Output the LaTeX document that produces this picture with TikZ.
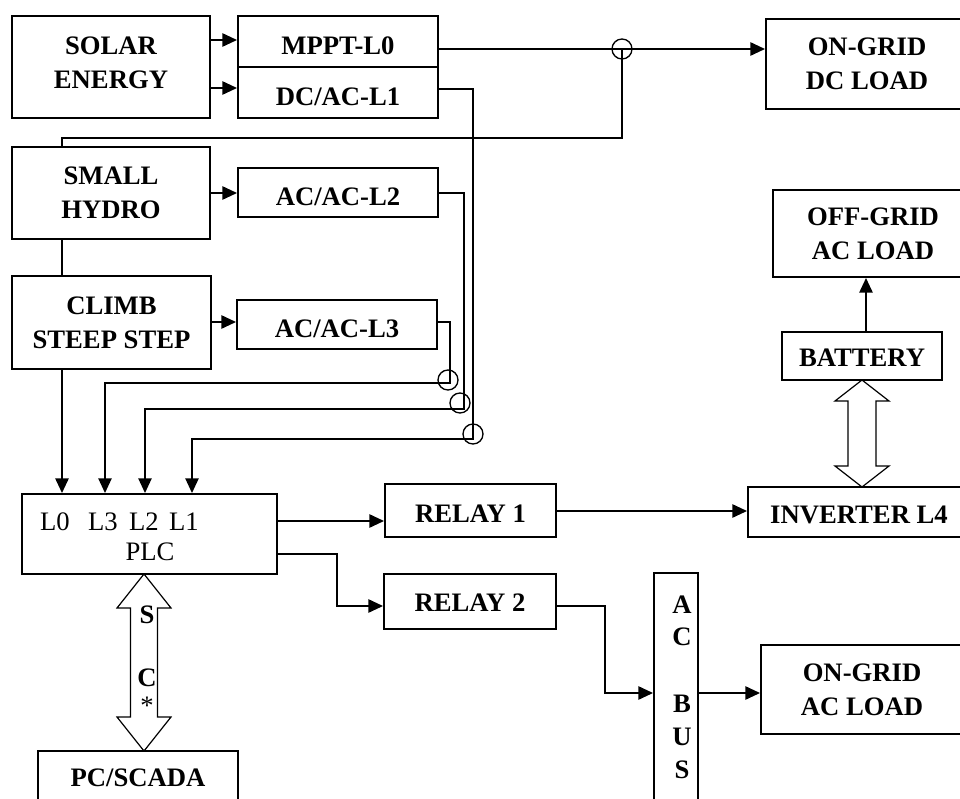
\documentclass[tikz,border=0pt]{standalone}
\usepackage{fontspec}
\setmainfont{Liberation Serif}
\usetikzlibrary{arrows.meta,calc}
\tikzset{
  box/.style={draw, line width=1.5pt, inner sep=0pt},
  btxt/.style={inner sep=0pt, align=center,
    font=\fontsize{20}{25.5}\selectfont\bfseries},
  lbl/.style={inner sep=0pt, font=\fontsize{20}{24}\selectfont},
  blbl/.style={inner sep=0pt, font=\fontsize{20}{24}\selectfont\bfseries},
  arr/.style={line width=1.3pt, -{Triangle[length=11pt,width=10pt]}},
  warr/.style={line width=1pt, -{Triangle[length=11pt,width=10pt]}},
  wire/.style={line width=1pt},
  hop/.style={line width=1pt},
  dbl/.style={line width=0.9pt, line join=miter},
}
% name, x1, y1, x2, y2, text, text y-offset
\newcommand\mybox[7]{%
  \node[box, minimum width={(#4-#2)*0.75pt}, minimum height={(#5-#3)*0.75pt}] (#1) at ({(#2+#4)/2},{(#3+#5)/2}) {};
  \node[btxt] (#1-t) at ({(#2+#4)/2},{(#3+#5)/2+#7}) {#6};}
\newcommand\dblarrowv[6]{% x, ytop, ybot, headlen, headhalf, shafthalf
  \draw[dbl] (#1,#2) -- ({#1+#5},{#2+#4}) -- ({#1+#6},{#2+#4}) -- ({#1+#6},{#3-#4})
    -- ({#1+#5},{#3-#4}) -- (#1,#3) -- ({#1-#5},{#3-#4}) -- ({#1-#6},{#3-#4})
    -- ({#1-#6},{#2+#4}) -- ({#1-#5},{#2+#4}) -- cycle;}
\begin{document}
\begin{tikzpicture}[x=0.75pt,y=-0.75pt]
\clip (0,0) rectangle (960,799);
\fill[white] (0,0) rectangle (960,799);
% boxes
\mybox{solar}{12}{16}{210}{118}{SOLAR\\ENERGY}{-4}
\mybox{mppt}{238}{16}{438}{67}{MPPT-L0}{4}
\mybox{dcac}{238}{67}{438}{118}{DC/AC-L1}{4}
\mybox{hydro}{12}{147}{210}{239}{SMALL\\HYDRO}{0}
\mybox{acac2}{238}{168}{438}{217}{AC/AC-L2}{4}
\mybox{climb}{12}{276}{211}{369}{CLIMB\\STEEP STEP}{0}
\mybox{acac3}{237}{300}{437}{349}{AC/AC-L3}{4}
\mybox{ondc}{766}{19}{968}{109}{ON-GRID\\DC LOAD}{0}
\mybox{offgrid}{773}{190}{973}{277}{OFF-GRID\\AC LOAD}{0}
\mybox{battery}{782}{332}{942}{380}{BATTERY}{2}
\mybox{inverter}{748}{487}{970}{537}{INVERTER L4}{3}
\mybox{relay1}{385}{484}{556}{537}{RELAY 1}{3}
\mybox{relay2}{384}{574}{556}{629}{RELAY 2}{1}
\mybox{plc}{22}{494}{277}{574}{}{0}
\mybox{acbus}{654}{573}{698}{840}{}{0}
\mybox{ongridac}{761}{645}{963}{734}{ON-GRID\\AC LOAD}{0}
\mybox{pcscada}{38}{751}{238}{840}{}{0}
% texts inside
\node[lbl] (tl0) at (55,522) {L0};
\node[lbl] (tl3) at (103,522) {L3};
\node[lbl] (tl2) at (144,522) {L2};
\node[lbl] (tl1) at (184,522) {L1};
\node[lbl] (tplc) at (150,552) {PLC};
\node[blbl] (tpc) at (138,778) {PC/SCADA};
\node[blbl] (ba) at (682,605) {A};
\node[blbl] (bc) at (682,637) {C};
\node[blbl] (bb) at (682,704) {B};
\node[blbl] (bu) at (682,737) {U};
\node[blbl] (bs) at (682,770) {S};
% connectors
\draw[arr] (solar.east |- 0,40) -- (mppt.west |- 0,40);
\draw[arr] (solar.east |- 0,88) -- (dcac.west |- 0,88);
\draw[arr] (hydro.east |- 0,193) -- (acac2.west |- 0,193);
\draw[arr] (climb.east |- 0,322) -- (acac3.west |- 0,322);
\draw[arr] (mppt.east |- 0,49) -- (ondc.west |- 0,49);
% hydro loop to MPPT line
\coordinate (j0) at (622,49);
\draw[wire] (hydro.north -| 62,0) -- (62,138) -- (622,138) -- (j0);
\draw[hop] (j0) circle[radius=10];
\draw[wire] (hydro.south -| 62,0) -- (climb.north -| 62,0);
\draw[arr] (climb.south -| 62,0) -- (plc.north -| 62,0);
% L1 from DC/AC
\draw[warr] (dcac.east |- 0,89) -- (473,89) -- (473,439) -- (192,439) -- (plc.north -| 192,0);
% L2 from AC/AC-L2
\draw[warr] (acac2.east |- 0,193) -- (464,193) -- (464,409) -- (145,409) -- (plc.north -| 145,0);
% L3 from AC/AC-L3
\draw[warr] (acac3.east |- 0,322) -- (450,322) -- (450,383) -- (105,383) -- (plc.north -| 105,0);
\draw[hop] (448,380) circle[radius=10];
\draw[hop] (460,403) circle[radius=10];
\draw[hop] (473,434) circle[radius=10];
% PLC to relays
\draw[arr] (plc.east |- 0,521) -- (relay1.west |- 0,521);
\draw[arr] (plc.east |- 0,554) -- (337,554) -- (337,606) -- (relay2.west |- 0,606);
\draw[arr] (relay1.east |- 0,511) -- (inverter.west |- 0,511);
\draw[arr] (relay2.east |- 0,606) -- (605,606) -- (605,693) -- (acbus.west |- 0,693);
\draw[arr] (acbus.east |- 0,693) -- (ongridac.west |- 0,693);
\draw[arr] (battery.north -| 866,0) -- (offgrid.south -| 866,0);
% double arrows
\dblarrowv{862}{380}{487}{21}{27}{14}
\dblarrowv{144}{574}{751}{34}{27}{13.5}
\node[blbl] (ts) at (147,615) {S};
\node[blbl] (tc) at (147,678) {C};
\node[lbl] (tst) at (147,706) {*};
\end{tikzpicture}
\end{document}
